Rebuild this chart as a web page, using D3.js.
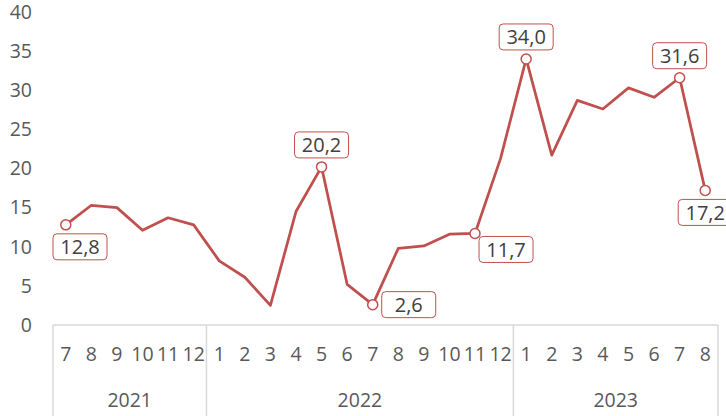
<!DOCTYPE html>
<html>
<head>
<meta charset="utf-8">
<script src="https://cdn.jsdelivr.net/npm/d3@7"></script>
<style>
  body { margin: 0; background: #fff; }
  svg { display: block; font-family: "Open Sans", sans-serif; }
</style>
</head>
<body>
<svg id="chart"></svg>
<script>
// data
const years = ["2021", "2022", "2023"];
const months = [
  [7, 8, 9, 10, 11, 12],
  [1, 2, 3, 4, 5, 6, 7, 8, 9, 10, 11, 12],
  [1, 2, 3, 4, 5, 6, 7, 8]
];
const values = [
  12.8, 15.3, 15.0, 12.1, 13.7, 12.8,
  8.2, 6.1, 2.5, 14.5, 20.2, 5.2, 2.6, 9.8, 10.1, 11.6, 11.7, 21.3,
  34.0, 21.7, 28.7, 27.6, 30.3, 29.1, 31.6, 17.2
];
const yTicks = [0, 5, 10, 15, 20, 25, 30, 35, 40];
// index of labelled points -> where the label sits
const labelled = { 0: "below", 10: "above", 12: "right", 16: "belowright", 18: "above", 24: "above", 25: "below" };

const width = 726, height = 416;
const margin = { top: 12, right: 8, bottom: 91, left: 53 };
const red = "#c0504d", grid = "#d9d9d9", tickColor = "#595959";
const fs = 19.5;

const svg = d3.select("#chart").attr("width", width).attr("height", height);

const cats = [];
months.forEach((ms, yi) => ms.forEach(m => cats.push({ year: years[yi], month: m, key: years[yi] + "-" + m })));

const x = d3.scaleBand()
  .domain(cats.map(d => d.key))
  .range([margin.left, width - margin.right]);
const y = d3.scaleLinear()
  .domain([0, 40])
  .range([height - margin.bottom, margin.top]);

// y axis labels
const yAxis = d3.axisLeft(y).tickValues(yTicks).tickSize(0).tickPadding(0);
svg.append("g")
  .attr("transform", "translate(32,0)")
  .call(yAxis)
  .call(g => g.select(".domain").remove())
  .call(g => g.selectAll("text")
    .attr("fill", tickColor)
    .attr("font-size", fs)
    .attr("font-family", "'Open Sans', sans-serif"));

// category axis: baseline, year separators, month + year labels
const y0 = y(0);
svg.append("line")
  .attr("x1", x.range()[0]).attr("x2", x.range()[1])
  .attr("y1", y0).attr("y2", y0)
  .attr("stroke", grid).attr("stroke-width", 1.5);

let start = 0;
const bounds = [x(cats[0].key)];
months.forEach((ms, yi) => {
  const first = cats[start], last = cats[start + ms.length - 1];
  const x0 = x(first.key), x1 = x(last.key) + x.bandwidth();
  bounds.push(x1);
  svg.append("text")
    .attr("x", (x0 + x1) / 2)
    .attr("y", 407)
    .attr("text-anchor", "middle")
    .attr("fill", tickColor)
    .attr("font-size", fs)
    .text(years[yi]);
  start += ms.length;
});

svg.selectAll(".sep")
  .data(bounds)
  .enter().append("line")
  .attr("x1", d => d).attr("x2", d => d)
  .attr("y1", y0).attr("y2", height)
  .attr("stroke", grid).attr("stroke-width", 1.5);

svg.selectAll(".month")
  .data(cats)
  .enter().append("text")
  .attr("x", d => x(d.key) + x.bandwidth() / 2)
  .attr("y", 361)
  .attr("text-anchor", "middle")
  .attr("fill", tickColor)
  .attr("font-size", fs)
  .text(d => d.month);

// line
const pts = cats.map((c, i) => ({ c, v: values[i], i }));
const line = d3.line()
  .x(d => x(d.c.key) + x.bandwidth() / 2)
  .y(d => y(d.v));

svg.append("path")
  .attr("d", line(pts))
  .attr("fill", "none")
  .attr("stroke", red)
  .attr("stroke-width", 2.75)
  .attr("stroke-linejoin", "round");

// markers and labels
const marked = pts.filter(d => labelled[d.i]);
svg.selectAll(".marker")
  .data(marked)
  .enter().append("circle")
  .attr("cx", d => x(d.c.key) + x.bandwidth() / 2)
  .attr("cy", d => y(d.v))
  .attr("r", 5)
  .attr("fill", "#fff")
  .attr("stroke", red)
  .attr("stroke-width", 1.5);

const bw = 54, bh = 26;
const offsets = {
  below: [0, 22], above: [0, -22], right: [36, 0], belowright: [31, 16]
};
const lbl = svg.selectAll(".lbl")
  .data(marked)
  .enter().append("g")
  .attr("transform", d => {
    const o = offsets[labelled[d.i]];
    let cx = x(d.c.key) + x.bandwidth() / 2 + o[0];
    cx = Math.max(cx, x.range()[0] + bw / 2);
    const cy = y(d.v) + o[1];
    return `translate(${cx},${cy})`;
  });

lbl.append("rect")
  .attr("x", -bw / 2).attr("y", -bh / 2)
  .attr("width", bw).attr("height", bh)
  .attr("rx", 4)
  .attr("fill", "#fff")
  .attr("stroke", red)
  .attr("stroke-width", 1);

lbl.append("text")
  .attr("text-anchor", "middle")
  .attr("dy", "0.36em")
  .attr("fill", "#404040")
  .attr("font-size", 20)
  .text(d => d3.format(".1f")(d.v).replace(".", ","));
</script>
</body>
</html>
